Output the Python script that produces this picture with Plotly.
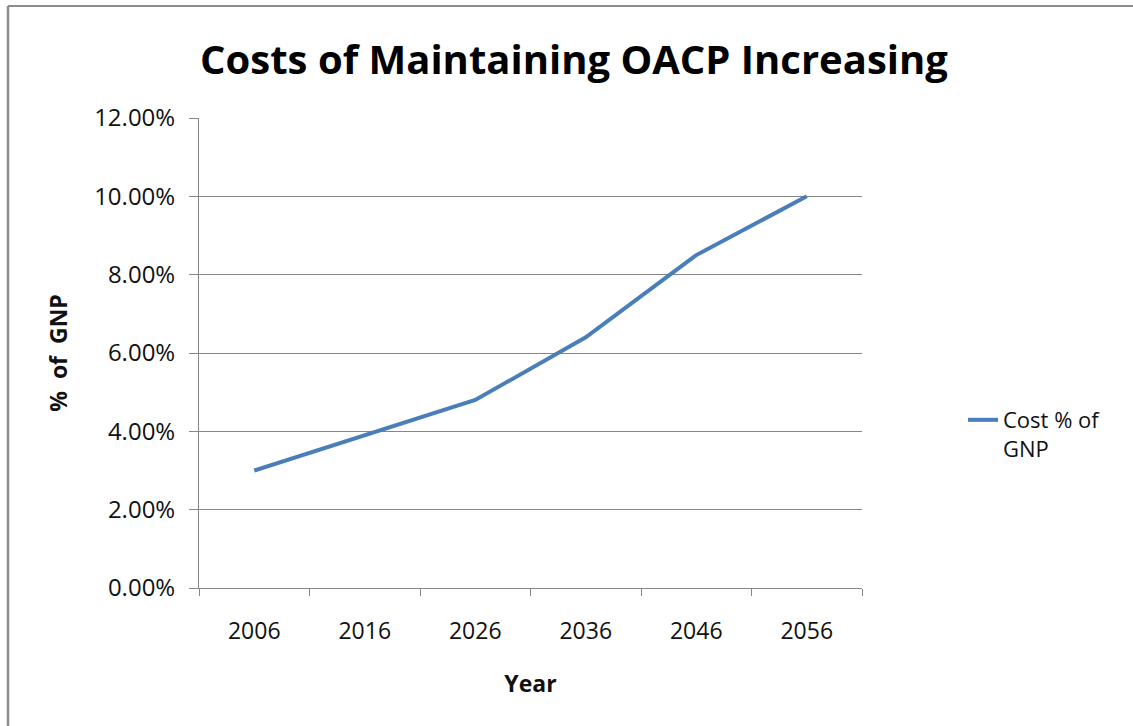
import plotly.graph_objects as go

# Projected cost of maintaining OACP, share of GNP
years = ["2006", "2016", "2026", "2036", "2046", "2056"]
cost_share = [0.030, 0.039, 0.048, 0.064, 0.085, 0.100]
series_name = "Cost % of<br>GNP"

W, H = 1133, 726
L, R, T, B = 199, 271, 118, 138

FONT = "Open Sans"
GRID = "#868686"
TXT = "#111111"

fig = go.Figure()
fig.add_trace(go.Scatter(
    x=years, y=cost_share, mode="lines", name=series_name,
    line=dict(color="#4A7EBB", width=4),
    showlegend=True,
))

# frame edges of the chart area (left and top)
pw, ph = W - L - R, H - T - B
def px_x(px):
    return (px - L) / pw
def px_y(py):
    return (H - B - py) / ph

fig.add_shape(type="line", xref="paper", yref="paper",
              x0=px_x(8), x1=px_x(W + 5), y0=px_y(6), y1=px_y(6),
              line=dict(color="#8c8c8c", width=2))
fig.add_shape(type="line", xref="paper", yref="paper",
              x0=px_x(8), x1=px_x(8), y0=px_y(6), y1=px_y(H + 5),
              line=dict(color="#8c8c8c", width=2.5))

fig.update_layout(
    width=W, height=H,
    margin=dict(l=L, r=R, t=T, b=B),
    paper_bgcolor="white", plot_bgcolor="white",
    font=dict(family=FONT, color=TXT),
    title=dict(text="<b>Costs of Maintaining OACP Increasing</b>",
               x=574 / W, xanchor="center",
               y=1 - 60 / H, yanchor="middle",
               font=dict(family=FONT, size=40, color="#000000")),
    showlegend=True,
    legend=dict(x=px_x(963), xanchor="left", y=px_y(399), yanchor="top",
                valign="top", font=dict(family=FONT, size=22, color=TXT),
                bgcolor="rgba(0,0,0,0)"),
    xaxis=dict(
        type="category", range=[-0.5, 5.5],
        tickson="boundaries", ticks="outside", ticklen=7, tickcolor=GRID,
        ticklabelstandoff=22,
        showline=True, linecolor=GRID, linewidth=1,
        showgrid=False, zeroline=False,
        tickfont=dict(family=FONT, size=23, color=TXT),
        title=dict(text="<b>Year</b>", font=dict(family=FONT, size=23, color=TXT),
                   standoff=31),
    ),
    yaxis=dict(
        range=[0, 0.12], dtick=0.02, tickformat=".2%",
        ticks="outside", ticklen=9, tickcolor=GRID,
        ticklabelstandoff=9,
        showline=True, linecolor=GRID, linewidth=1,
        showgrid=True, gridcolor=GRID, gridwidth=1, zeroline=False,
        tickfont=dict(family=FONT, size=24, color=TXT),
        title=dict(text="<b>%  of  GNP</b>", font=dict(family=FONT, size=23, color=TXT),
                   standoff=20),
    ),
)

fig.write_html("out.html")
